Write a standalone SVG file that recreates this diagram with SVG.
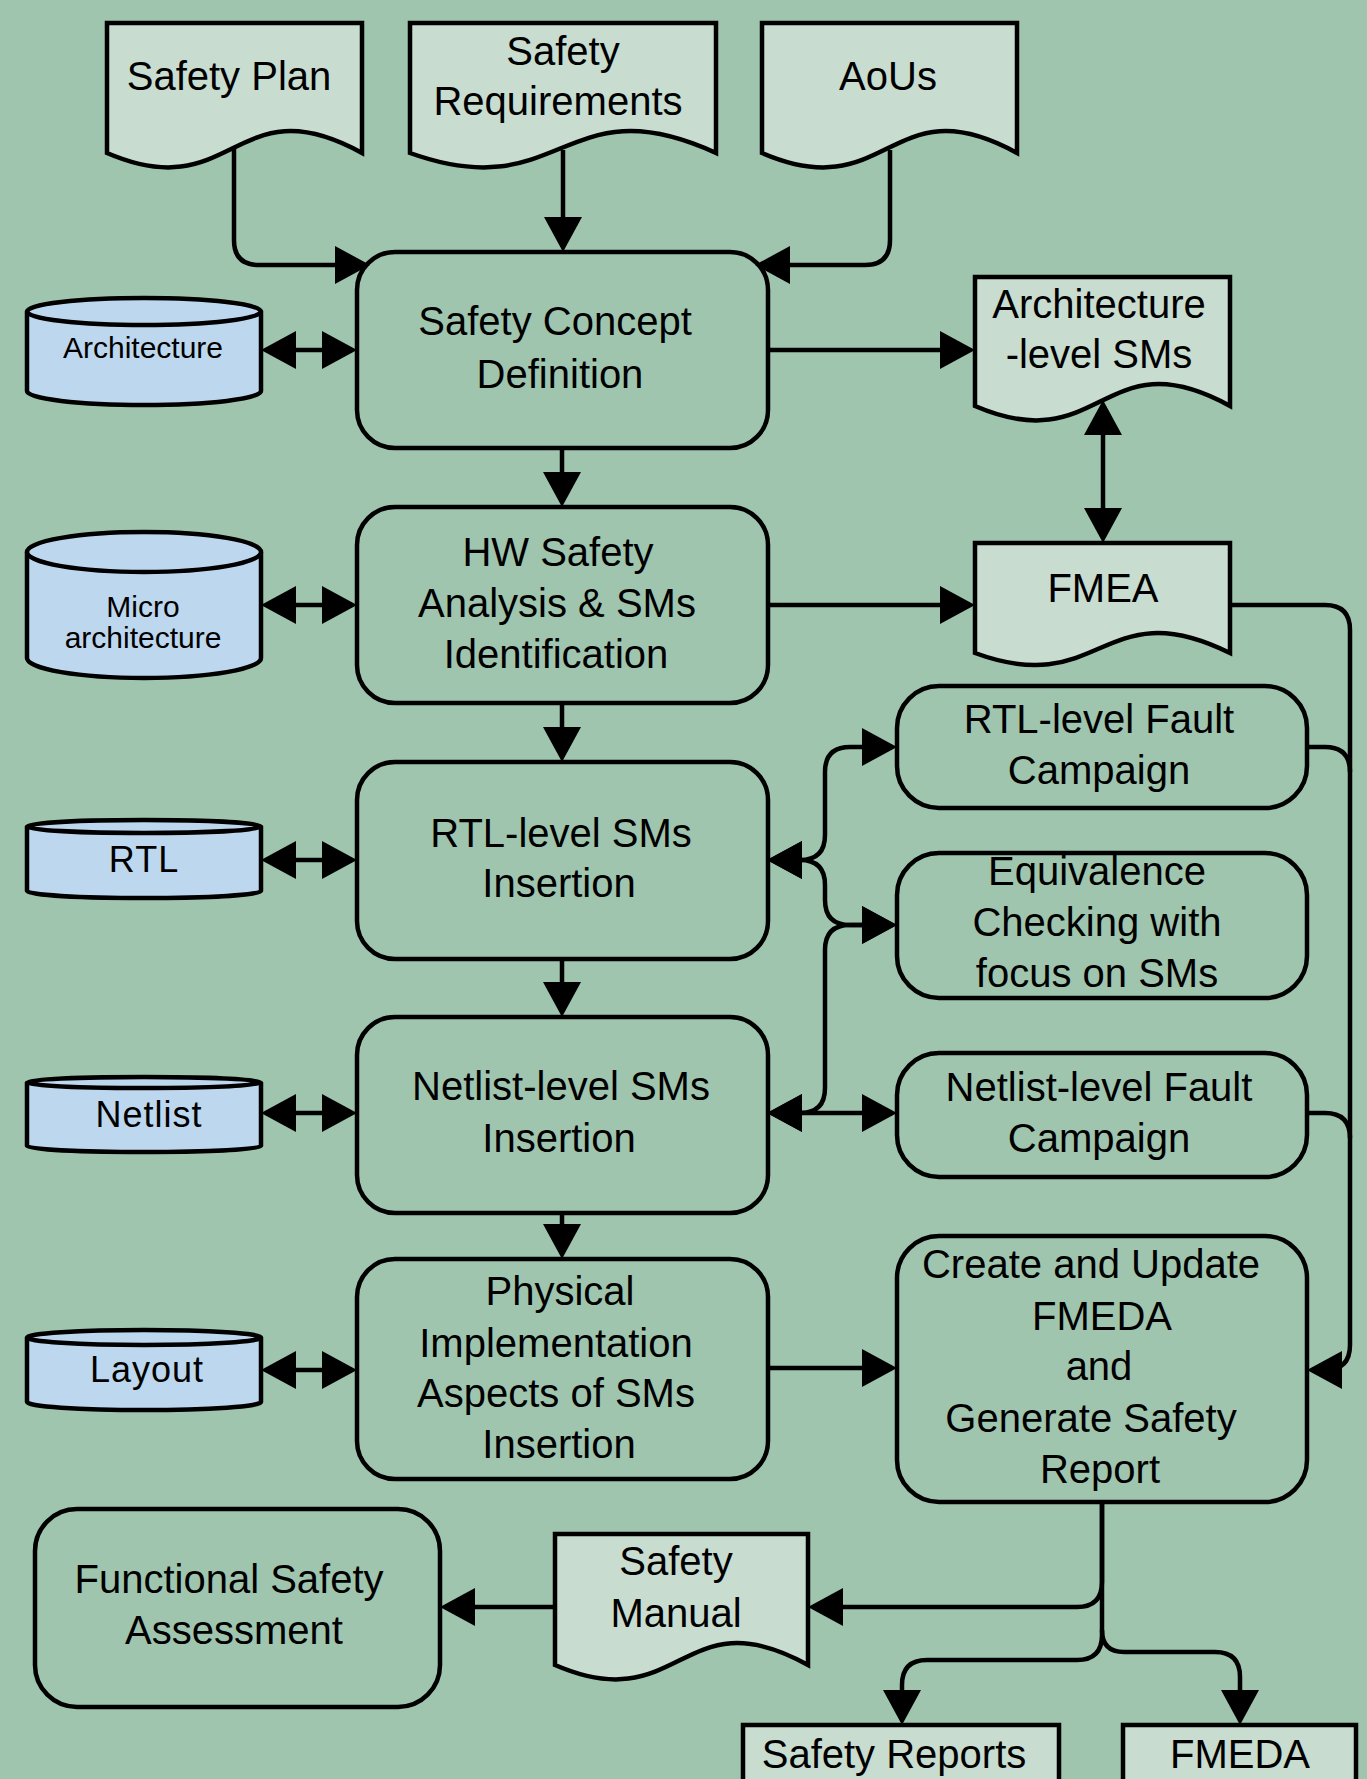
<svg xmlns="http://www.w3.org/2000/svg" width="1367" height="1779" viewBox="0 0 1367 1779">
<style>
.bg{fill:#9FC5AF}
.box{fill:none;stroke:#000;stroke-width:4.5}
.doc{fill:#C8DCD0;stroke:#000;stroke-width:4.5;stroke-linejoin:miter}
.cyl{fill:#BDD7EE;stroke:#000;stroke-width:4.5}
.t{font-family:"Liberation Sans",Arial,sans-serif;font-size:40px;text-anchor:middle;fill:#000}
.ts{font-family:"Liberation Sans",Arial,sans-serif;font-size:30px;text-anchor:middle;fill:#000}
.tc{font-family:"Liberation Sans",Arial,sans-serif;font-size:36px;letter-spacing:1px;text-anchor:middle;fill:#000}
.c{fill:none;stroke:#000;stroke-width:4.5}
.a1{marker-end:url(#ah)}
.a2{marker-start:url(#ah);marker-end:url(#ah)}
</style>
<defs>
<marker id="ah" markerUnits="userSpaceOnUse" markerWidth="35" markerHeight="38" viewBox="0 0 35 38" refX="30" refY="19" orient="auto-start-reverse">
<path d="M0,0 L35,19 L0,38 Z" fill="#000"/>
</marker>
</defs>
<rect class="bg" x="0" y="0" width="1367" height="1779"/>

<g id="connectors">
<path class="c a1" d="M234 148 V240 Q234 265 259 265 H365"/>
<path class="c a1" d="M563 150 V247"/>
<path class="c a1" d="M890 150 V240 Q890 265 865 265 H760"/>
<path class="c a2" d="M266 350 H352"/>
<path class="c a1" d="M768 350 H970"/>
<path class="c a2" d="M1103 405 V538"/>
<path class="c a1" d="M562 448 V502"/>
<path class="c a2" d="M266 605 H352"/>
<path class="c a1" d="M768 605 H970"/>
<path class="c a1" d="M1230 605 H1325 Q1350 605 1350 630 V1345 Q1350 1370 1325 1370 H1312"/>
<path class="c" d="M1307 747 H1325 Q1350 747 1350 772"/>
<path class="c" d="M1307 1113 H1325 Q1350 1113 1350 1138"/>
<path class="c a1" d="M562 703 V757"/>
<path class="c a2" d="M266 860 H352"/>
<path class="c a2" d="M772 860 H800 Q825 860 825 835 V772 Q825 747 850 747 H892"/>
<path class="c a2" d="M772 860 H800 Q825 860 825 885 V900 Q825 925 850 925 H892"/>
<path class="c a1" d="M562 959 V1012"/>
<path class="c a2" d="M266 1113 H352"/>
<path class="c a2" d="M772 1113 H800 Q825 1113 825 1088 V950 Q825 925 850 925 H892"/>
<path class="c a2" d="M772 1113 H892"/>
<path class="c a1" d="M562 1213 V1254"/>
<path class="c a2" d="M266 1370 H352"/>
<path class="c a1" d="M768 1368 H892"/>
<path class="c a1" d="M1102 1501 V1582 Q1102 1607 1077 1607 H813"/>
<path class="c a1" d="M555 1607 H445"/>
<path class="c a1" d="M1102 1501 V1635 Q1102 1660 1077 1660 H927 Q902 1660 902 1685 V1720"/>
<path class="c a1" d="M1102 1630 Q1102 1652 1124 1652 H1215 Q1240 1652 1240 1677 V1720"/>
</g>

<g id="safety-plan">
<path class="doc" d="M107 23 H362 V153 C234.5 83 234.5 208 107 153 Z"/>
<text class="t" x="229" y="90">Safety Plan</text>
</g>
<g id="safety-requirements">
<path class="doc" d="M410 23 H716 V153 C563 83 563 208 410 153 Z"/>
<text class="t" x="563" y="65">Safety</text>
<text class="t" x="558" y="115">Requirements</text>
</g>
<g id="aous">
<path class="doc" d="M762 23 H1017 V153 C889.5 83 889.5 208 762 153 Z"/>
<text class="t" x="888" y="90">AoUs</text>
</g>

<g id="architecture-db">
<path class="cyl" d="M27 311.5 V391 A117 14 0 0 0 261 391 V311.5"/>
<ellipse class="cyl" cx="144" cy="311.5" rx="117" ry="13.5"/>
<text class="ts" x="143" y="358">Architecture</text>
</g>
<g id="safety-concept">
<rect class="box" x="357" y="252" width="411" height="196" rx="38"/>
<text class="t" x="555" y="335">Safety Concept</text>
<text class="t" x="560" y="388">Definition</text>
</g>
<g id="arch-level-sms">
<path class="doc" d="M975 277 H1230 V406 C1102.5 336 1102.5 461 975 406 Z"/>
<text class="t" x="1099" y="318">Architecture</text>
<text class="t" x="1099" y="368">-level SMs</text>
</g>

<g id="micro-architecture-db">
<path class="cyl" d="M27 552 V658 A117 20 0 0 0 261 658 V552"/>
<ellipse class="cyl" cx="144" cy="552" rx="117" ry="20"/>
<text class="ts" x="143" y="617">Micro</text>
<text class="ts" x="143" y="648">architecture</text>
</g>
<g id="hw-safety-analysis">
<rect class="box" x="357" y="507" width="411" height="196" rx="38"/>
<text class="t" x="558" y="566">HW Safety</text>
<text class="t" x="557" y="617">Analysis &amp; SMs</text>
<text class="t" x="556" y="668">Identification</text>
</g>
<g id="fmea">
<path class="doc" d="M975 543 H1230 V653 C1102.5 590 1102.5 700 975 653 Z"/>
<text class="t" x="1103" y="602">FMEA</text>
</g>

<g id="rtl-db">
<path class="cyl" d="M27 826.5 V891 A117 7 0 0 0 261 891 V826.5"/>
<ellipse class="cyl" cx="144" cy="826.5" rx="117" ry="6.5"/>
<text class="tc" x="144" y="872">RTL</text>
</g>
<g id="rtl-sms-insertion">
<rect class="box" x="357" y="762" width="411" height="197" rx="38"/>
<text class="t" x="561" y="847">RTL-level SMs</text>
<text class="t" x="559" y="897">Insertion</text>
</g>
<g id="rtl-fault-campaign">
<rect class="box" x="897" y="686" width="410" height="122" rx="42"/>
<text class="t" x="1099" y="733">RTL-level Fault</text>
<text class="t" x="1099" y="784">Campaign</text>
</g>
<g id="equivalence-checking">
<rect class="box" x="897" y="853" width="410" height="145" rx="42"/>
<text class="t" x="1097" y="885">Equivalence</text>
<text class="t" x="1097" y="936">Checking with</text>
<text class="t" x="1097" y="987">focus on SMs</text>
</g>

<g id="netlist-db">
<path class="cyl" d="M27 1082.5 V1146 A117 6 0 0 0 261 1146 V1082.5"/>
<ellipse class="cyl" cx="144" cy="1082.5" rx="117" ry="5.5"/>
<text class="tc" x="149" y="1127">Netlist</text>
</g>
<g id="netlist-sms-insertion">
<rect class="box" x="357" y="1017" width="411" height="196" rx="38"/>
<text class="t" x="561" y="1100">Netlist-level SMs</text>
<text class="t" x="559" y="1152">Insertion</text>
</g>
<g id="netlist-fault-campaign">
<rect class="box" x="897" y="1053" width="410" height="124" rx="42"/>
<text class="t" x="1099" y="1101">Netlist-level Fault</text>
<text class="t" x="1099" y="1152">Campaign</text>
</g>

<g id="layout-db">
<path class="cyl" d="M27 1337.5 V1402 A117 8 0 0 0 261 1402 V1337.5"/>
<ellipse class="cyl" cx="144" cy="1337.5" rx="117" ry="7.5"/>
<text class="tc" x="147" y="1382">Layout</text>
</g>
<g id="physical-implementation">
<rect class="box" x="357" y="1259" width="411" height="220" rx="38"/>
<text class="t" x="560" y="1305">Physical</text>
<text class="t" x="556" y="1357">Implementation</text>
<text class="t" x="556" y="1407">Aspects of SMs</text>
<text class="t" x="559" y="1458">Insertion</text>
</g>
<g id="create-fmeda">
<rect class="box" x="897" y="1236" width="410" height="266" rx="42"/>
<text class="t" x="1091" y="1278">Create and Update</text>
<text class="t" x="1102" y="1330">FMEDA</text>
<text class="t" x="1099" y="1380">and</text>
<text class="t" x="1091" y="1432">Generate Safety</text>
<text class="t" x="1100" y="1483">Report</text>
</g>

<g id="functional-safety-assessment">
<rect class="box" x="35" y="1509" width="405" height="198" rx="42"/>
<text class="t" x="229" y="1593">Functional Safety</text>
<text class="t" x="234" y="1644">Assessment</text>
</g>
<g id="safety-manual">
<path class="doc" d="M555 1534 H808 V1665 C681.5 1595 681.5 1720 555 1665 Z"/>
<text class="t" x="676" y="1575">Safety</text>
<text class="t" x="676" y="1627">Manual</text>
</g>
<g id="safety-reports">
<rect class="doc" x="743" y="1725" width="316" height="80"/>
<text class="t" x="894" y="1768">Safety Reports</text>
</g>
<g id="fmeda">
<rect class="doc" x="1123" y="1725" width="233" height="80"/>
<text class="t" x="1240" y="1768">FMEDA</text>
</g>
</svg>
